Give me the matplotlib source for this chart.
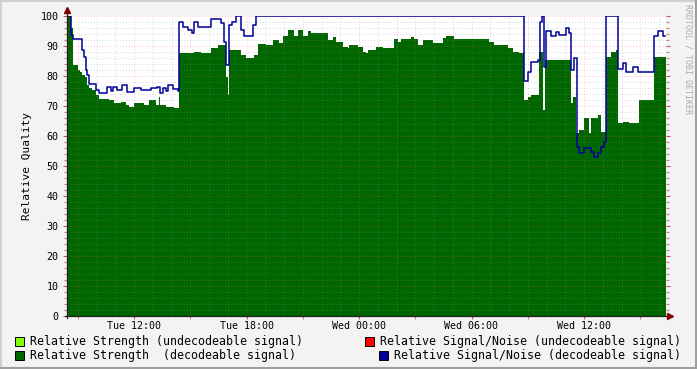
import matplotlib
matplotlib.use('Agg')
import matplotlib.pyplot as plt
from matplotlib.patches import Rectangle
from matplotlib.lines import Line2D

plt.rcParams['font.family'] = ['DejaVu Sans Mono']

# minutes since Tue 00:00, step changes
strength_t = [483, 518, 525, 541, 547, 554, 562, 570, 576, 586, 597, 608, 640, 656,
              678, 694, 704, 720, 752, 768, 790, 800, 803, 822, 848, 864, 912, 934,
              966, 989, 1014, 1021, 1024, 1062, 1078, 1104, 1117, 1142, 1165, 1184,
              1197, 1213, 1232, 1245, 1261, 1277, 1286, 1341, 1357, 1366, 1389, 1405,
              1408, 1437, 1453, 1462, 1469, 1494, 1517, 1552, 1565, 1574, 1606, 1616,
              1629, 1645, 1677, 1709, 1718, 1744, 1856, 1872, 1917, 1933, 1952, 1968,
              1981, 1990, 2016, 2029, 2035, 2118, 2125, 2134, 2144, 2160, 2176, 2182,
              2205, 2214, 2230, 2246, 2262, 2269, 2285, 2305, 2337, 2385]
strength_v = [100, 96, 83.7, 82, 81.4, 80.3, 79.8, 77, 76, 75.3, 73.7, 72.5, 72, 70.9,
              71.4, 70.3, 69.8, 70.9, 70.3, 72, 70.3, 73, 70.3, 69.8, 69.5, 87.6, 88.1, 87.6,
              89.2, 90.3, 79.8, 73.7, 88.7, 86.9, 85.9, 87, 90.6, 90.3, 92, 90.9,
              93.3, 95.3, 93.3, 95.3, 93.3, 95.1, 94.2, 92, 93.1, 91.4, 89.8, 89.2,
              90.3, 89.8, 88.1, 87.6, 88.7, 89.8, 89.2, 92.2, 91.4, 92.2, 93.1, 92.2,
              90.3, 92, 90.9, 92.6, 93.3, 92.2, 91.4, 90.3, 89.2, 88.1, 87.6, 72,
              73.1, 73.7, 88, 68.7, 85.3, 70.9, 73.1, 60.9, 62, 65.9, 60.9, 65.9,
              67, 61.4, 86.4, 88.1, 88.7, 64.2, 64.8, 64.2, 72, 86.4]
strength_end = 2423

snr_t = [483, 518, 525, 554, 560, 566, 570, 576, 598, 608, 634, 646, 653, 666, 682,
         698, 720, 742, 774, 794, 803, 813, 822, 829, 845, 861, 864, 877, 893, 906,
         912, 925, 934, 966, 998, 1008, 1014, 1024, 1034, 1046, 1062, 1072, 1101,
         1110, 1968, 1981, 1990, 2013, 2019, 2026, 2032, 2038, 2054, 2070, 2080,
         2102, 2112, 2118, 2128, 2138, 2144, 2160, 2182, 2192, 2205, 2214, 2224,
         2230, 2269, 2285, 2294, 2317, 2333, 2385, 2397, 2413]
snr_v = [100, 93.7, 92.2, 88.7, 86.4, 82, 80.3, 77.3, 75.3, 74.5, 76.4, 75, 76.4, 75.3, 77,
         74.8, 76, 75.3, 76, 76.5, 74.5, 76, 75, 77, 75.8, 75, 98.1, 96.2, 95.3, 94.2,
         98.1, 96.4, 96.2, 99, 97.6, 91.4, 83.7, 97, 98.1, 100, 95.3, 93.3, 97,
         100, 78.4, 81.4, 84.8, 85.3, 98, 100, 83, 95.1, 93.3, 94.8, 93.7,
         95.9, 94.2, 82, 85.9, 56.4, 54.5, 55.9, 54.8, 53, 54.2, 56.4, 58.1,
         100, 82.2, 84.2, 81.4, 83.1, 81.4, 93.3, 95.1, 93.3]
snr_end = 2419

tick_pos = [720, 1080, 1440, 1800, 2160]
tick_labels = ['Tue 12:00', 'Tue 18:00', 'Wed 00:00', 'Wed 06:00', 'Wed 12:00']

W, H = 697, 369
fig = plt.figure(figsize=(W / 100, H / 100), dpi=100)
fig.patch.set_facecolor('#f3f3f3')
ax = fig.add_axes([67 / W, (H - 316) / H, (666 - 67) / W, 300 / H])
ax.set_facecolor('white')

x0, x1 = 505.6, 2422.4
ax.set_xlim(x0, x1)
ax.set_ylim(0, 100)

# data
ax.fill_between(strength_t + [strength_end], strength_v + [strength_v[-1]], 0,
                step='post', color='#006600', lw=0, zorder=2)
ax.step(snr_t + [snr_end], snr_v + [snr_v[-1]], where='post',
        color='#000099', lw=1.1, zorder=4)

# grid
for y in range(2, 101, 2):
    if y % 10 == 0:
        ax.axhline(y, color='#ff5050', alpha=0.35, lw=0.7, ls=(0, (1, 2)), zorder=3)
    else:
        ax.axhline(y, color='#909090', alpha=0.35, lw=0.7, ls=(0, (1, 2)), zorder=3)
for m in range(540, 2422, 60):
    if m % 180 == 0:
        ax.axvline(m, color='#ff5050', alpha=0.3, lw=0.7, ls=(0, (1, 2)), zorder=3)
    else:
        ax.axvline(m, color='#909090', alpha=0.35, lw=0.7, ls=(0, (1, 2)), zorder=3)

# ticks
ax.set_yticks(range(0, 101, 10))
ax.set_yticks(range(0, 101, 2), minor=True)
ax.set_xticks(tick_pos)
ax.set_xticklabels(tick_labels)
ax.set_xticks(range(540, 2422, 180), minor=True)
ax.tick_params(axis='both', which='major', labelsize=7.2, length=3, width=0.8,
               color='#cc5050', pad=3)
ax.tick_params(axis='y', which='both', right=True)
ax.tick_params(axis='both', which='minor', length=2, width=0.8, color='#cc8080')
ax.tick_params(axis='x', which='major', length=2, pad=1.5)

for s in ['top', 'right', 'left', 'bottom']:
    ax.spines[s].set_visible(False)

# axes with arrows
fx = lambda px: px / W
fy = lambda py: 1 - py / H
fig.add_artist(Line2D([fx(67), fx(67)], [fy(318), fy(10)], color='#202020', lw=0.9))
fig.add_artist(Line2D([fx(65), fx(672)], [fy(316), fy(316)], color='#202020', lw=0.9))
fig.add_artist(Line2D([fx(67)], [fy(10)], marker='^', color='#7f0000', ms=4, lw=0))
fig.add_artist(Line2D([fx(670)], [fy(316)], marker='>', color='#7f0000', ms=4, lw=0))

ax.set_ylabel('Relative Quality', fontsize=8, labelpad=6)

fig.text(fx(688), fy(4), 'RRDTOOL / TOBI OETIKER', rotation=270, fontsize=6,
         color='#aaaaaa', ha='center', va='top')

# legend
def legend_item(px, py, color, label):
    fig.add_artist(Rectangle((fx(px), fy(py + 4.5)), 9 / W, 9 / H, facecolor=color,
                             edgecolor='black', lw=0.7))
    fig.text(fx(px + 15), fy(py), label, fontsize=8.35, va='center', ha='left')

legend_item(15, 341, '#7fff00', 'Relative Strength (undecodeable signal)')
legend_item(15, 355, '#006600', 'Relative Strength  (decodeable signal)')
legend_item(365, 341, '#ff0000', 'Relative Signal/Noise (undecodeable signal)')
legend_item(379, 355, '#000099', 'Relative Signal/Noise (decodeable signal)')

# border shading
fig.add_artist(Line2D([0, 1], [fy(0.5), fy(0.5)], color='#cfcfcf', lw=1.5))
fig.add_artist(Line2D([fx(0.5), fx(0.5)], [0, 1], color='#cfcfcf', lw=1.5))
fig.add_artist(Line2D([0, 1], [fy(368), fy(368)], color='#9e9e9e', lw=1.5))
fig.add_artist(Line2D([fx(696), fx(696)], [0, 1], color='#9e9e9e', lw=1.5))

fig.savefig('out.png', dpi=100, facecolor=fig.get_facecolor())
